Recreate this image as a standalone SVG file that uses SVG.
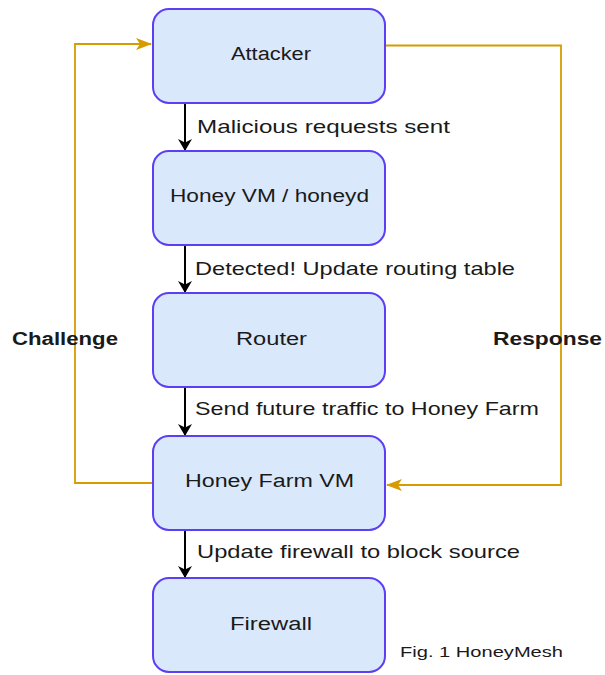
<svg xmlns="http://www.w3.org/2000/svg" width="605" height="675" viewBox="0 0 605 675">
<defs>
<style>
.box{fill:#dae8fc;stroke:#5a3ff5;stroke-width:2}
.nt{font-family:"Liberation Sans",Arial,sans-serif;font-size:18px;fill:#1a1a1a;text-anchor:middle}
.el{font-family:"Liberation Sans",Arial,sans-serif;font-size:18.5px;fill:#1a1a1a}
.bl{font-family:"Liberation Sans",Arial,sans-serif;font-size:18px;font-weight:bold;fill:#1a1a1a}
.blk{fill:none;stroke:#000;stroke-width:2}
.org{fill:none;stroke:#d79b00;stroke-width:1.8}
</style>
<marker id="ab" markerWidth="12" markerHeight="14" viewBox="0 0 12 14" refX="11" refY="7" orient="auto" markerUnits="userSpaceOnUse">
<path d="M0,0 L12,7 L0,14 L3.5,7 Z" fill="#000"/>
</marker>
<marker id="ao" markerWidth="16" markerHeight="12" viewBox="0 0 16 12" refX="15" refY="6" orient="auto" markerUnits="userSpaceOnUse">
<path d="M0,0 L16,6 L0,12 L4,6 Z" fill="#d79b00"/>
</marker>
</defs>
<rect width="605" height="675" fill="#fff"/>
<g id="connectors">
<line class="blk" x1="185" y1="103" x2="185" y2="150" marker-end="url(#ab)"/>
<line class="blk" x1="185" y1="245" x2="185" y2="292" marker-end="url(#ab)"/>
<line class="blk" x1="185" y1="387" x2="185" y2="435" marker-end="url(#ab)"/>
<line class="blk" x1="185" y1="530" x2="185" y2="577" marker-end="url(#ab)"/>
<path class="org" d="M153,483 L75,483 L75,44 L151,44" marker-end="url(#ao)"/>
<path class="org" d="M385,45.5 L561,45.5 L561,485 L387,485" marker-end="url(#ao)"/>
</g>
<g id="attacker">
<rect class="box" x="153" y="9" width="232" height="94" rx="16"/>
<text class="nt" x="271" y="60" textLength="80" lengthAdjust="spacingAndGlyphs">Attacker</text>
</g>
<g id="honeyvm">
<rect class="box" x="153" y="151" width="232" height="94" rx="16"/>
<text class="nt" x="269.5" y="202" textLength="199" lengthAdjust="spacingAndGlyphs">Honey VM / honeyd</text>
</g>
<g id="router">
<rect class="box" x="153" y="293" width="232" height="94" rx="16"/>
<text class="nt" x="271.5" y="345" textLength="71" lengthAdjust="spacingAndGlyphs">Router</text>
</g>
<g id="honeyfarm">
<rect class="box" x="153" y="436" width="232" height="94" rx="16"/>
<text class="nt" x="269.5" y="487" textLength="169" lengthAdjust="spacingAndGlyphs">Honey Farm VM</text>
</g>
<g id="firewall">
<rect class="box" x="153" y="578" width="232" height="94" rx="16"/>
<text class="nt" x="271" y="630" textLength="82" lengthAdjust="spacingAndGlyphs">Firewall</text>
</g>
<g id="labels">
<text class="el" x="197" y="132.5" textLength="253" lengthAdjust="spacingAndGlyphs">Malicious requests sent</text>
<text class="el" x="195" y="275" textLength="320" lengthAdjust="spacingAndGlyphs">Detected! Update routing table</text>
<text class="el" x="195" y="415" textLength="344" lengthAdjust="spacingAndGlyphs">Send future traffic to Honey Farm</text>
<text class="el" x="197" y="558" textLength="323" lengthAdjust="spacingAndGlyphs">Update firewall to block source</text>
<text class="bl" x="12" y="344.5" textLength="106" lengthAdjust="spacingAndGlyphs">Challenge</text>
<text class="bl" x="493" y="344.5" textLength="109" lengthAdjust="spacingAndGlyphs">Response</text>
<text x="400" y="657" font-family="'Liberation Sans',Arial,sans-serif" font-size="14px" fill="#1a1a1a" textLength="163" lengthAdjust="spacingAndGlyphs">Fig. 1 HoneyMesh</text>
</g>
</svg>
